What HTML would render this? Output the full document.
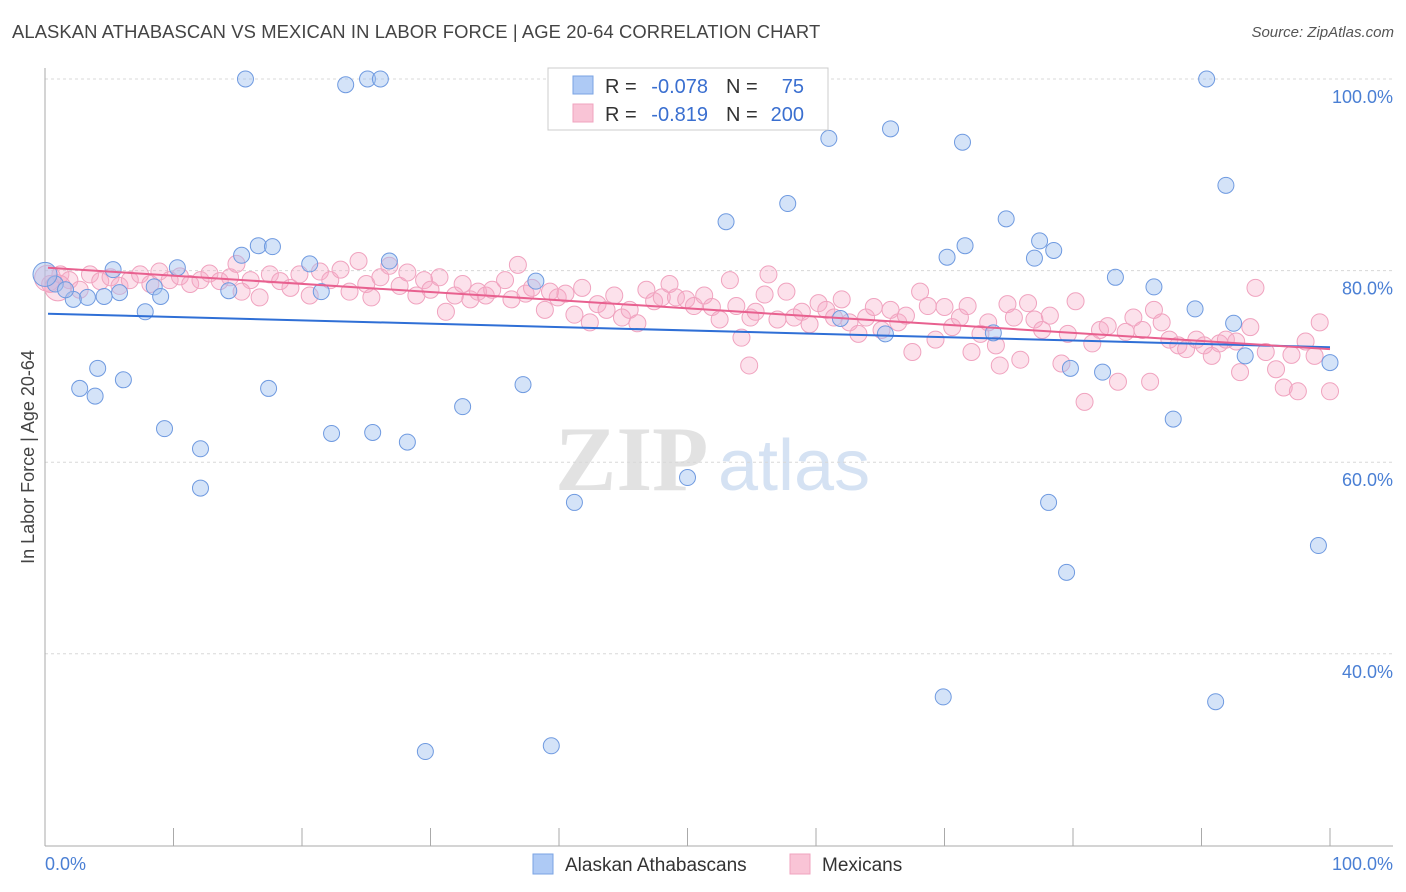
<!DOCTYPE html>
<html><head><meta charset="utf-8">
<style>
body{margin:0;background:#fff;font-family:"Liberation Sans",sans-serif;}
#wrap{position:relative;width:1406px;height:892px;overflow:hidden;}
.title{position:absolute;left:12px;top:21px;font-size:18.4px;color:#444;letter-spacing:0.1px;}
.source{position:absolute;right:12px;top:24px;font-size:15px;color:#555;font-style:italic;}
</style></head>
<body>
<div id="wrap">
<div class="title">ALASKAN ATHABASCAN VS MEXICAN IN LABOR FORCE | AGE 20-64 CORRELATION CHART</div>
<div class="source">Source: ZipAtlas.com</div>
<svg id="chart" width="1406" height="892" style="position:absolute;left:0;top:0"></svg>
</div>
<script>
const blueX=[15.6,23.4,25.1,26.1,90.4,65.8,61.0,71.4,91.9,57.8,53.0,74.8,77.4,78.5,71.6,70.2,77.0,15.3,16.6,17.7,20.6,26.8,10.3,5.3,83.3,86.3,38.2,21.5,14.3,8.5,5.8,9.0,4.6,3.3,2.2,7.8,0.8,1.6,89.5,61.9,65.4,73.8,92.5,93.4,100,79.8,82.3,4.1,2.7,3.9,6.1,17.4,37.2,32.5,9.3,22.3,25.5,28.2,12.1,87.8,50.0,12.1,41.2,78.1,99.1,79.5,69.9,91.1,39.4,29.6,0];
const blueY=[100,99.4,100,100,100,94.8,93.8,93.4,88.9,87.0,85.1,85.4,83.1,82.1,82.6,81.4,81.3,81.6,82.6,82.5,80.7,81.0,80.3,80.1,79.3,78.3,78.9,77.8,77.9,78.3,77.7,77.3,77.3,77.2,77.0,75.7,78.6,78.0,76.0,75.0,73.4,73.5,74.5,71.1,70.4,69.8,69.4,69.8,67.7,66.9,68.6,67.7,68.1,65.8,63.5,63.0,63.1,62.1,61.4,64.5,58.4,57.3,55.8,55.8,51.3,48.5,35.5,35.0,30.4,29.8,79.6];
const pinkX=[0.4,1.2,1.9,2.7,3.5,4.3,5.1,5.8,6.6,7.4,8.2,8.9,9.7,10.5,11.3,12.1,12.8,13.6,14.4,14.9,15.3,16.0,16.7,17.5,18.3,19.1,19.8,20.6,21.4,22.2,23.0,23.7,24.4,25.0,25.4,26.1,26.8,27.6,28.2,28.9,29.5,30.0,30.7,31.2,31.9,32.5,33.1,33.7,34.3,34.8,35.8,36.3,36.8,37.4,37.9,38.9,39.3,39.9,40.5,41.2,41.8,42.4,43.0,43.7,44.3,44.9,45.5,46.1,46.8,47.4,48.0,48.6,49.1,49.9,50.5,51.3,51.9,52.5,53.3,53.8,54.2,54.9,55.3,56.0,56.3,57.0,57.7,58.3,58.9,59.5,60.2,60.8,61.4,62.0,62.6,63.3,63.9,64.5,65.1,65.8,66.4,67.0,67.5,68.1,68.7,69.3,70.0,70.6,71.2,71.8,72.1,72.8,73.4,74.0,74.3,74.9,75.4,75.9,76.5,77.0,77.6,78.2,79.1,79.6,80.2,80.9,81.5,82.1,82.7,83.5,84.1,84.7,85.4,86.0,86.3,86.9,87.5,88.2,88.8,89.6,90.2,90.8,91.4,91.9,92.7,93.0,93.8,94.2,95.0,95.8,96.4,97.0,97.5,98.1,98.8,99.2,100,54.8,0.2,1.0];
const pinkY=[78.6,79.6,79.0,78.0,79.6,78.9,79.3,78.4,79.0,79.6,78.6,79.9,79.0,79.4,78.6,79.0,79.7,78.9,79.3,80.7,77.8,79.0,77.2,79.6,78.9,78.2,79.6,77.4,79.9,79.0,80.1,77.8,81.0,78.6,77.2,79.3,80.5,78.4,79.8,77.4,79.0,78.0,79.3,75.7,77.4,78.6,77.0,77.8,77.4,78.0,79.0,77.0,80.6,77.6,78.2,75.9,77.8,77.2,77.6,75.4,78.2,74.6,76.5,75.9,77.4,75.1,75.9,74.5,78.0,76.8,77.2,78.6,77.2,77.0,76.3,77.4,76.2,74.9,79.0,76.3,73.0,75.1,75.7,77.5,79.6,74.9,77.8,75.1,75.7,74.4,76.6,75.9,75.1,77.0,74.6,73.4,75.1,76.2,73.8,75.9,74.6,75.3,71.5,77.8,76.3,72.8,76.2,74.1,75.1,76.3,71.5,73.4,74.6,72.2,70.1,76.5,75.1,70.7,76.6,74.9,73.8,75.3,70.3,73.4,76.8,66.3,72.4,73.8,74.2,68.4,73.6,75.1,73.8,68.4,75.9,74.6,72.8,72.2,71.8,72.8,72.2,71.1,72.4,72.8,72.6,69.4,74.1,78.2,71.5,69.7,67.8,71.2,67.4,72.6,71.1,74.6,67.4,70.1,79.2,78.2];
const blueTrend=[75.5,72.0];
const pinkTrend=[80.3,71.8];
const yTicks=[100,80,60,40];
const yTickLabels=["100.0%","80.0%","60.0%","40.0%"];
const xTicks=[0,10,20,30,40,50,60,70,80,90,100];

const NS="http://www.w3.org/2000/svg";
const svg=document.getElementById('chart');
const X0=45,X1=1330,Y100=79,PXPER=9.58,YB=846;
function sx(v){return X0+(X1-X0)*v/100;}
function sy(v){return Y100+(100-v)*PXPER;}
function mk(tag,attrs,parent){const e=document.createElementNS(NS,tag);for(const k in attrs)e.setAttribute(k,attrs[k]);(parent||svg).appendChild(e);return e;}

let wm=mk('text',{x:555,y:490,'font-family':'Liberation Serif, serif','font-size':92,fill:'#e2e2e2','font-weight':'bold'});


wm.textContent='ZIP';
let wm2=mk('text',{x:718,y:490,'font-family':'Liberation Sans, sans-serif','font-size':72,fill:'#d5e2f3'});


wm2.textContent='atlas';

yTicks.forEach((t,i)=>{
  const g=mk('line',{x1:X0,x2:1393,y1:sy(t),y2:sy(t),stroke:'#d8d8d8','stroke-dasharray':'3,3','stroke-width':1});
  
  
  const l=mk('text',{x:1393,y:sy(t)+24,'text-anchor':'end','font-size':18,fill:'#4a7fd4','font-family':'Liberation Sans, sans-serif'});
  
  
  l.textContent=yTickLabels[i];
});
let ax=mk('line',{x1:X0,x2:1393,y1:YB,y2:YB,stroke:'#aaa','stroke-width':1});


let ay=mk('line',{x1:X0,x2:X0,y1:68,y2:YB,stroke:'#aaa','stroke-width':1});


xTicks.forEach(t=>{
  const tk=mk('line',{x1:sx(t),x2:sx(t),y1:828,y2:YB,stroke:'#aaa','stroke-width':1});
  
  
});
let xl0=mk('text',{x:45,y:870,'font-size':18,fill:'#4a7fd4'});


xl0.textContent='0.0%';
let xl1=mk('text',{x:1393,y:870,'font-size':18,fill:'#4a7fd4','text-anchor':'end'});


xl1.textContent='100.0%';
let yt=mk('text',{x:34,y:457,'font-size':18,fill:'#444','text-anchor':'middle',transform:'rotate(-90 34 457)'});


yt.textContent='In Labor Force | Age 20-64';

pinkX.forEach((x,i)=>{
  const c=mk('circle',{cx:sx(x),cy:sy(pinkY[i]),r:(i>=pinkX.length-2)?13:8.5,fill:'rgba(246,170,198,0.35)',stroke:'#f0a3bf','stroke-width':1});
  
  
});
blueX.forEach((x,i)=>{
  const c=mk('circle',{cx:sx(x),cy:sy(blueY[i]),r:(i===blueX.length-1)?12:8,fill:'rgba(160,192,240,0.45)',stroke:'#6f9ae0','stroke-width':1});
  
  
});
let bl=mk('line',{x1:sx(0)+3,x2:sx(100),y1:sy(blueTrend[0]),y2:sy(blueTrend[1]),stroke:'#2f6fd6','stroke-width':2});


let pl=mk('line',{x1:sx(0)+3,x2:sx(100),y1:sy(pinkTrend[0]),y2:sy(pinkTrend[1]),stroke:'#e8608f','stroke-width':2});



let lg=mk('g',{});


mk('rect',{x:548,y:68,width:280,height:62,fill:'#fff',stroke:'#ccc','stroke-width':1},lg);
mk('rect',{x:573,y:76,width:20,height:18,fill:'#aecaf5',stroke:'#7aa3e3'},lg);
mk('rect',{x:573,y:104,width:20,height:18,fill:'#f9c4d6',stroke:'#f0a3bf'},lg);
function lt(x,y,txt,col,anchor){const t=mk('text',{x:x,y:y,'font-size':20,fill:col,'text-anchor':anchor||'start'},lg);t.textContent=txt;return t;}
lt(605,93,'R =','#333');lt(708,93,'-0.078','#3a6fd0','end');lt(726,93,'N =','#333');lt(804,93,'75','#3a6fd0','end');
lt(605,121,'R =','#333');lt(708,121,'-0.819','#3a6fd0','end');lt(726,121,'N =','#333');lt(804,121,'200','#3a6fd0','end');

let bl1=mk('g',{});


mk('rect',{x:533,y:854,width:20,height:20,fill:'#aecaf5',stroke:'#7aa3e3'},bl1);
let t1=mk('text',{x:565,y:871,'font-size':19,fill:'#333'},bl1);t1.textContent='Alaskan Athabascans';
let bl2=mk('g',{});


mk('rect',{x:790,y:854,width:20,height:20,fill:'#f9c4d6',stroke:'#f0a3bf'},bl2);
let t2=mk('text',{x:822,y:871,'font-size':19,fill:'#333'},bl2);t2.textContent='Mexicans';
</script>
</body></html>
